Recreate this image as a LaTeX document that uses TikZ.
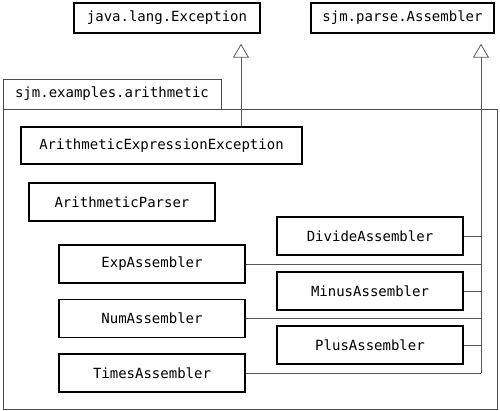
\documentclass[tikz,border=0pt]{standalone}
\usepackage{fontspec}
\setmonofont{DejaVu Sans Mono}
\usetikzlibrary{arrows.meta}
\begin{document}
\begin{tikzpicture}[x=1pt,y=-1pt,
  cls/.style={draw=black,line width=1.4pt,minimum width=186pt,minimum height=38pt,inner sep=0pt,font=\ttfamily\fontsize{14}{16}\selectfont},
  pkg/.style={draw=black!70,line width=0.8pt,inner sep=0pt,font=\ttfamily\fontsize{14}{16}\selectfont},
  conn/.style={draw=black!65,line width=0.8pt},
  inh/.style={conn,-{Triangle[open,width=16pt,length=14pt,line width=0.8pt]},shorten >=10pt}]
\useasboundingbox (0,0) rectangle (500,411);
% package
\node[pkg,minimum width=218pt,minimum height=30pt] (tab) at (112,94) {sjm.examples.arithmetic};
\node[pkg,minimum width=494pt,minimum height=300pt] (pack) at (250,259) {};
% superclasses
\node[cls,minimum height=30pt] (exc) at (167,18) {java.lang.Exception};
\node[cls,minimum width=183pt,minimum height=30pt] (asm) at (402.5,18) {sjm.parse.Assembler};
% classes
\node[cls,minimum width=281pt,minimum height=37pt] (aee) at (161.5,145.5) {ArithmeticExpressionException};
\node[cls] (ap) at (122,202) {ArithmeticParser};
\node[cls] (div) at (370,236) {DivideAssembler};
\node[cls] (exp) at (152,264) {ExpAssembler};
\node[cls] (min) at (370,291) {MinusAssembler};
\node[cls] (num) at (152,318.5) {NumAssembler};
\node[cls] (plus) at (370,345) {PlusAssembler};
\node[cls] (times) at (152,373) {TimesAssembler};
% connectors
\coordinate (excfoot) at (241,127);
\draw[inh] (aee.north -| excfoot) -- (exc.south -| excfoot);
\coordinate (bus) at (481,373);
\draw[inh] (bus) -- (asm.south -| bus);
\foreach \n in {div,exp,min,num,plus,times}
  \draw[conn] (\n.east) -- (\n.east -| bus);
\end{tikzpicture}
\end{document}
